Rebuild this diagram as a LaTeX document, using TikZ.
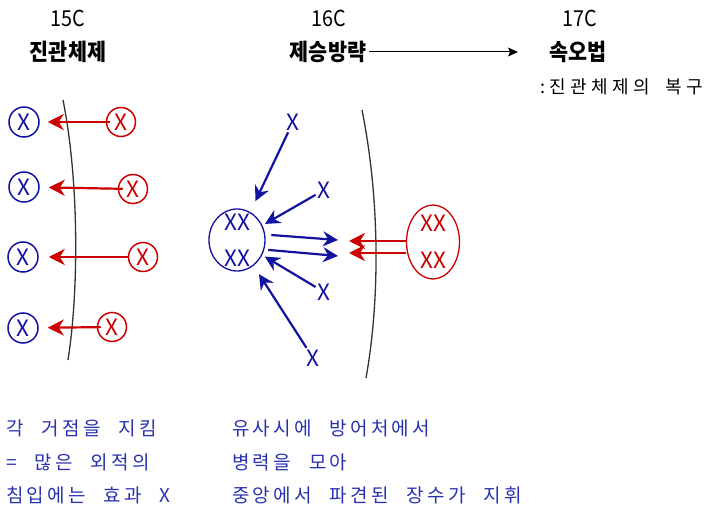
\documentclass[tikz,border=0pt]{standalone}
\usepackage{fontspec}
\setmainfont{Noto Sans CJK KR}
\newfontfamily\krfont{Noto Sans CJK KR}
\newfontfamily\hdrfont[FakeStretch=0.9]{Noto Sans CJK KR}
\newfontfamily\xfont{Noto Sans CJK KR}
\newfontfamily\krspaced[LetterSpace=17,WordSpace=2.4]{Noto Sans CJK KR}
\newfontfamily\krspacedb[LetterSpace=24,WordSpace=1.9]{Noto Sans CJK KR}
\usetikzlibrary{arrows.meta,shapes.geometric}
\definecolor{myblue}{RGB}{18,18,160}
\definecolor{myred}{RGB}{205,0,0}
\definecolor{txtblue}{RGB}{40,50,175}
\begin{document}
\begin{tikzpicture}[x=1pt,y=-1pt,
  hdr/.style={font=\hdrfont\fontsize{23}{25}\selectfont\bfseries, inner sep=0pt, anchor=center},
  cent/.style={font=\hdrfont\fontsize{22}{24}\selectfont, inner sep=0pt},
  bcirc/.style={circle, draw=myblue, line width=1.5pt, text=myblue, minimum size=30pt, inner sep=0pt, font=\xfont\fontsize{22.5}{22.5}\selectfont},
  rcirc/.style={circle, draw=myred, line width=1.5pt, text=myred, minimum size=29pt, inner sep=0pt, font=\xfont\fontsize{22.5}{22.5}\selectfont},
  bx/.style={text=myblue, inner sep=0pt, font=\xfont\fontsize{22.5}{22.5}\selectfont},
  redarrow/.style={draw=myred, line width=2.2pt, -{Stealth[length=16pt,width=16pt,inset=5pt]}},
  bluearrow/.style={draw=myblue, line width=2.2pt, -{Stealth[length=15pt,width=15pt,inset=5pt]}},
  wall/.style={draw=black!80, line width=1.3pt},
  note/.style={font=\krspaced\fontsize{19}{21}\selectfont, text=txtblue, inner sep=0pt, anchor=west}
]
\useasboundingbox (0,0) rectangle (707,511);

% header
\node[cent] (c15) at (68,18) {15C};
\node[cent] (c16) at (329,18) {16C};
\node[cent] (c17) at (580,18) {17C};
\node[hdr] (h15) at (68,52) {진관체제};
\node[hdr] (h16) at (328,52) {제승방략};
\node[hdr] (h17) at (578,52) {속오법};
\node[font=\krspacedb\fontsize{18}{20}\selectfont, inner sep=0pt, anchor=west] (h17b) at (540,87) {:진관체제의 복구};
\coordinate (hend) at (518,52);
\draw[line width=1pt, -{Stealth[length=10pt,width=9pt,inset=2pt]}] (h16.east) ++(3,0) -- (hend);

% 15C section
\draw[wall] (63,100) .. controls (79,180) and (79,290) .. (68,360);
\node[bcirc] (b1) at (24,122) {X};
\node[bcirc] (b2) at (24,187) {X};
\node[bcirc] (b3) at (23,257) {X};
\node[bcirc] (b4) at (23,328) {X};
\node[rcirc] (r1) at (121,122) {X};
\node[rcirc] (r2) at (133,189) {X};
\node[rcirc] (r3) at (143,257) {X};
\node[rcirc] (r4) at (112,327) {X};
\draw[redarrow, shorten <=-4pt, shorten >=8pt] (r1) -- (b1);
\draw[redarrow, shorten <=-5pt, shorten >=9pt] (r2) -- (b2);
\draw[redarrow, shorten <=0pt, shorten >=10pt] (r3) -- (b3);
\draw[redarrow, shorten <=-4pt, shorten >=9pt] (r4) -- (b4);

% 16C section
\draw[wall] (362,110) .. controls (380,200) and (380,300) .. (366,378);
\node[ellipse, draw=myblue, line width=1.3pt, minimum width=56pt, minimum height=62pt, inner sep=0pt] (be) at (237,240) {};
\node[bx] (bexx1) at (237,222) {XX};
\node[bx] (bexx2) at (237,258) {XX};
\node[ellipse, draw=myred, line width=1.3pt, minimum width=53pt, minimum height=74pt, inner sep=0pt] (re) at (433,242) {};
\node[bx, text=myred] (rexx1) at (433,223) {XX};
\node[bx, text=myred] (rexx2) at (433,260) {XX};

\node[bx] (x1) at (293,122) {X};
\node[bx] (x2) at (324,190) {X};
\node[bx] (x3) at (324,292) {X};
\node[bx] (x4) at (313,358) {X};
\draw[bluearrow, shorten <=2pt, shorten >=12pt] (x1) -- (be);
\draw[bluearrow, shorten <=2pt, shorten >=3pt] (x2) -- (be);
\draw[bluearrow, shorten <=2pt, shorten >=3pt] (x3) -- (be);
\draw[bluearrow, shorten <=2pt, shorten >=10pt] (x4) -- (be);

\coordinate (t1) at (338,240);
\coordinate (t2) at (338,256);
\draw[bluearrow] (be.10) ++(6,0) -- (t1);
\draw[bluearrow] (be.-20) ++(4,0) -- (t2);

\coordinate (s1) at (349,241);
\coordinate (s2) at (349,253);
\draw[redarrow] (re.west |- s1) -- (s1);
\draw[redarrow] (re.west |- s2) -- (s2);

% notes
\node[note] (n1) at (6,428) {각 거점을 지킴};
\node[note] (n2) at (6,462) {= 많은 외적의};
\node[note] (n3) at (6,495) {침입에는 효과 X};
\node[note] (n4) at (232,428) {유사시에 방어처에서};
\node[note] (n5) at (232,462) {병력을 모아};
\node[note] (n6) at (232,495) {중앙에서 파견된 장수가 지휘};
\end{tikzpicture}
\end{document}
